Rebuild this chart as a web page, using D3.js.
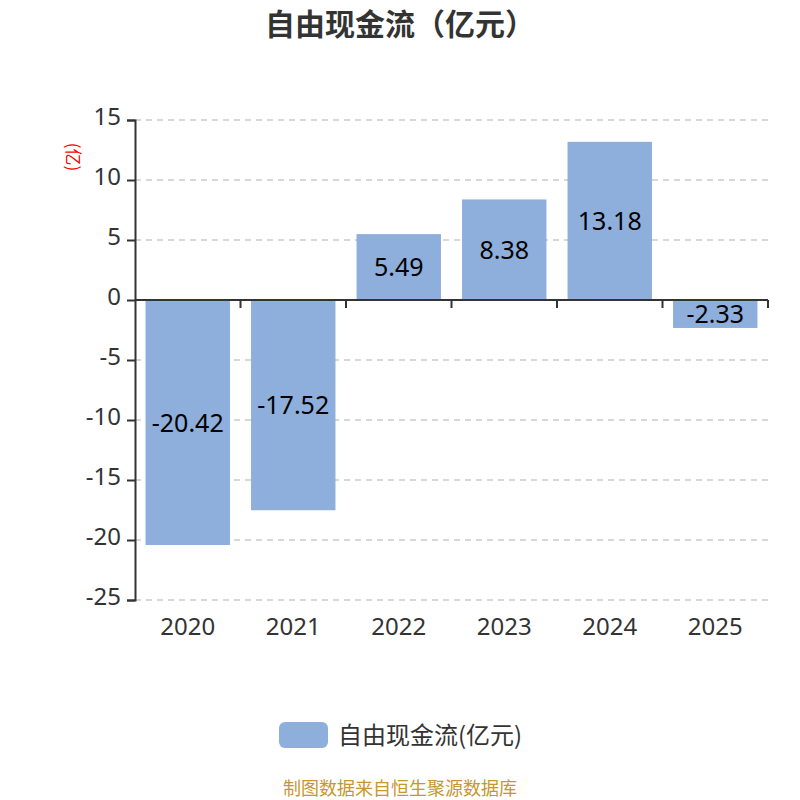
<!DOCTYPE html>
<html><head><meta charset="utf-8">
<script src="https://cdn.jsdelivr.net/npm/d3@7"></script>
<style>body{margin:0;background:#fff}svg{display:block;font-family:"Noto Sans CJK SC","Noto Sans",sans-serif}</style>
</head><body><svg id="c" width="800" height="800"></svg>
<script>
const categories = ["2020","2021","2022","2023","2024","2025"];
const values = [-20.42,-17.52,5.49,8.38,13.18,-2.33];
const yTicks = [15,10,5,0,-5,-10,-15,-20,-25];
const title = "自由现金流（亿元）";
const seriesName = "自由现金流(亿元)";
const unitLabel = "(亿)";
const source = "制图数据来自恒生聚源数据库";

const svg = d3.select("#c");
const L=135,R=768,T=120,B=600;
const x = d3.scaleBand().domain(categories).range([L,R]).paddingInner(0.2).paddingOuter(0.1);
const y = d3.scaleLinear().domain([-25,15]).range([B,T]);
const barColor = "#8EAEDB";
const numFont = "'Noto Sans',sans-serif";

svg.append("text").attr("x",400).attr("y",24).attr("dy","0.36em").attr("text-anchor","middle")
  .attr("font-size",30).attr("font-weight","bold").attr("fill","#333").text(title);

// grid
svg.append("g").selectAll("line").data(yTicks.filter(d=>d!==0)).join("line")
  .attr("x1",L).attr("x2",R).attr("y1",d=>y(d)).attr("y2",d=>y(d))
  .attr("stroke","#ccc").attr("stroke-width",1.5).attr("stroke-dasharray","6,5");

// bars
svg.append("g").selectAll("rect").data(values).join("rect")
  .attr("x",(d,i)=>x(categories[i])).attr("width",x.bandwidth())
  .attr("y",d=>y(Math.max(0,d))).attr("height",d=>Math.abs(y(d)-y(0)))
  .attr("fill",barColor);

// bar labels
svg.append("g").selectAll("text").data(values).join("text")
  .attr("x",(d,i)=>x(categories[i])+x.bandwidth()/2)
  .attr("y",d=>(y(d)+y(0))/2).attr("dy","0.36em").attr("text-anchor","middle")
  .attr("font-family",numFont).attr("font-size",25).attr("fill","#000").text(d=>d.toFixed(2));

// y axis
const ya = svg.append("g").attr("transform",`translate(${L},0)`)
  .call(d3.axisLeft(y).tickValues(yTicks).tickSize(8).tickPadding(6).tickFormat(d=>String(d)));
ya.select(".domain").attr("stroke","#333").attr("stroke-width",2);
ya.selectAll(".tick line").attr("stroke","#333").attr("stroke-width",2);
ya.selectAll(".tick text").attr("font-size",24).attr("fill","#333").attr("font-family",numFont)
  .attr("dy","0.2em");

// x axis at zero
const xa = svg.append("g").attr("transform",`translate(0,${y(0)})`);
xa.append("line").attr("x1",L).attr("x2",R).attr("stroke","#333").attr("stroke-width",2);
const bounds = categories.map(c=>x(c)+x.bandwidth()+x.step()*x.paddingInner()/2);
xa.selectAll("line.tk").data(bounds).join("line").attr("class","tk")
  .attr("x1",d=>d).attr("x2",d=>d).attr("y1",0).attr("y2",8).attr("stroke","#333").attr("stroke-width",2);

// x labels
svg.append("g").selectAll("text").data(categories).join("text")
  .attr("x",d=>x(d)+x.bandwidth()/2).attr("y",626).attr("dy","0.36em").attr("text-anchor","middle")
  .attr("font-size",24).attr("fill","#333").attr("font-family",numFont).text(d=>d);

// unit label
svg.append("text").attr("transform","translate(73,157) rotate(90)").attr("text-anchor","middle")
  .attr("dy","0.36em").attr("font-size",17).attr("fill","red").text(unitLabel);

// legend
svg.append("rect").attr("x",279).attr("y",722).attr("width",49).attr("height",26).attr("rx",6).attr("fill",barColor);
svg.append("text").attr("x",338).attr("y",735).attr("dy","0.36em").attr("font-size",24).attr("fill","#333").text(seriesName);

svg.append("text").attr("x",400).attr("y",789).attr("dy","0.36em").attr("text-anchor","middle").attr("font-size",18).attr("fill","#C8962E").text(source);
</script></body></html>
